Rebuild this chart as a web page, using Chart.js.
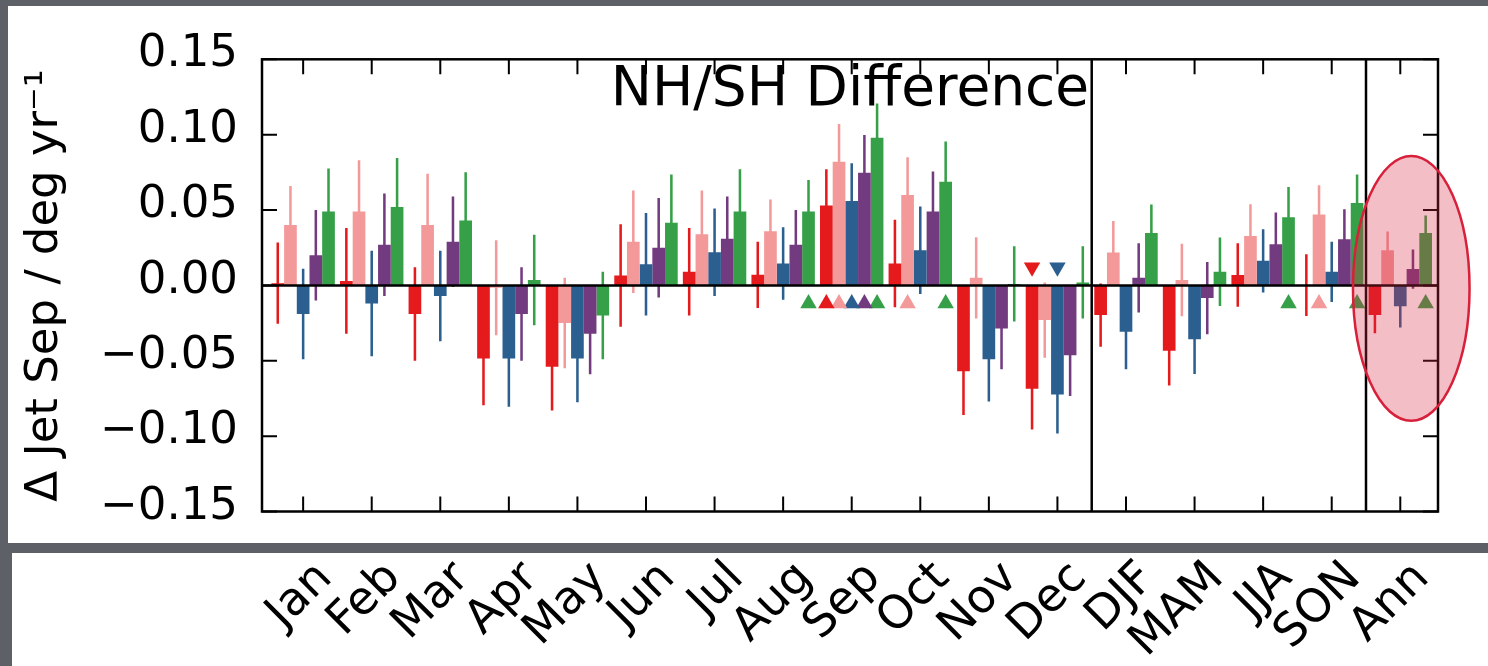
<!DOCTYPE html>
<html>
<head>
<meta charset="utf-8">
<script src="https://cdn.jsdelivr.net/npm/chart.js@4.4.1/dist/chart.umd.min.js"></script>
<style>
html, body { margin: 0; padding: 0; background: #ffffff; }
canvas { display: block; }
</style>
</head>
<body>
<canvas id="c" width="1488" height="666"></canvas>
<script>
// ---------------- data ----------------
const categories = ['Jan','Feb','Mar','Apr','May','Jun','Jul','Aug','Sep','Oct','Nov','Dec','DJF','MAM','JJA','SON','Ann'];
const yTickValues = [-0.15, -0.10, -0.05, 0.00, 0.05, 0.10, 0.15];

const redValues    = [0.0015, 0.003, -0.019, -0.0485, -0.054, 0.0065, 0.009, 0.007, 0.053, 0.0145, -0.057, -0.0686, -0.0197, -0.0434, 0.0069, 0.0002, -0.0197];
const redErrors    = [0.027, 0.035, 0.031, 0.031, 0.029, 0.034, 0.029, 0.022, 0.024, 0.029, 0.029, 0.027, 0.021, 0.023, 0.021, 0.0205, 0.012];
const pinkValues   = [0.040, 0.049, 0.040, -0.0015, -0.025, 0.029, 0.034, 0.036, 0.082, 0.060, 0.005, -0.023, 0.0218, 0.0036, 0.0328, 0.047, 0.0233];
const pinkErrors   = [0.026, 0.034, 0.034, 0.0315, 0.030, 0.034, 0.029, 0.021, 0.025, 0.025, 0.027, 0.025, 0.021, 0.024, 0.021, 0.0195, 0.0125];
const blueValues   = [-0.019, -0.012, -0.007, -0.0485, -0.0485, 0.014, 0.022, 0.0145, 0.056, 0.0233, -0.049, -0.0723, -0.0307, -0.0358, 0.0163, 0.009, -0.0139];
const blueErrors   = [0.030, 0.035, 0.030, 0.032, 0.029, 0.034, 0.029, 0.024, 0.025, 0.029, 0.028, 0.026, 0.025, 0.023, 0.021, 0.020, 0.014];
const purpleValues = [0.020, 0.027, 0.029, -0.019, -0.032, 0.025, 0.031, 0.027, 0.0747, 0.049, -0.0286, -0.0463, 0.005, -0.0084, 0.0273, 0.0306, 0.0108];
const purpleErrors = [0.030, 0.034, 0.030, 0.031, 0.027, 0.033, 0.028, 0.023, 0.025, 0.0265, 0.027, 0.027, 0.023, 0.024, 0.021, 0.020, 0.013];
const greenValues  = [0.049, 0.052, 0.043, 0.0036, -0.020, 0.0415, 0.049, 0.049, 0.098, 0.0688, 0.001, 0.002, 0.0347, 0.009, 0.0452, 0.0546, 0.0347];
const greenErrors  = [0.0285, 0.0325, 0.032, 0.030, 0.029, 0.032, 0.028, 0.021, 0.0227, 0.0267, 0.025, 0.024, 0.019, 0.0227, 0.020, 0.019, 0.0116];

// significance markers: 1 = upward triangle below zero, -1 = downward triangle above zero
const redSig    = [0,0,0,0,0,0,0,0,1,0,0,-1,0,0,0,0,0];
const pinkSig   = [0,0,0,0,0,0,0,0,1,1,0,0,0,0,0,1,0];
const blueSig   = [0,0,0,0,0,0,0,0,1,0,0,-1,0,0,0,0,0];
const purpleSig = [0,0,0,0,0,0,0,0,1,0,0,0,0,0,0,0,0];
const greenSig  = [0,0,0,0,0,0,0,1,1,1,0,0,0,0,1,1,1];

const markerLevel = 0.012;
const titleText = 'NH/SH Difference';
const yTitleText = '\u0394 Jet Sep / deg yr\u207B\u00B9';

// ---------------- style ----------------
const colors = ['#e41a1c', '#f4999a', '#2b5f8f', '#733b7f', '#35a047'];
const categoryPct = 0.925;
const frameGray = '#5e6068';
const highlight = { x: 16.16, y: -0.002, rx: 0.85, ry: 0.0878 };

const series = [
  { name: 'red',    values: redValues,    errors: redErrors,    sig: redSig },
  { name: 'pink',   values: pinkValues,   errors: pinkErrors,   sig: pinkSig },
  { name: 'blue',   values: blueValues,   errors: blueErrors,   sig: blueSig },
  { name: 'purple', values: purpleValues, errors: purpleErrors, sig: purpleSig },
  { name: 'green',  values: greenValues,  errors: greenErrors,  sig: greenSig }
];
const groupStep = categoryPct / series.length;

Chart.defaults.font.family = 'DejaVu Sans';
Chart.defaults.color = '#000';

const barSets = series.map((s, k) => ({
  type: 'bar',
  label: s.name,
  data: s.values.map((v, i) => ({ x: i, y: v })),
  backgroundColor: colors[k],
  stack: 's' + k,
  categoryPercentage: categoryPct,
  barPercentage: 1.0,
  borderWidth: 0
}));
const errSets = series.map((s, k) => ({
  type: 'bar',
  label: s.name + ' range',
  data: s.values.map((v, i) => ({ x: i, y: [v - s.errors[i], v + s.errors[i]] })),
  backgroundColor: colors[k],
  stack: 's' + k,
  categoryPercentage: categoryPct,
  barPercentage: 0.2,
  borderWidth: 0
}));
const markSets = series.map((s, k) => ({
  type: 'scatter',
  label: s.name + ' sig',
  data: s.sig.map((g, i) => g === 0 ? null : ({ x: i + (k - 2) * groupStep, y: g > 0 ? -markerLevel : markerLevel })).filter(p => p),
  pointStyle: 'triangle',
  pointRadius: 9.5,
  pointRotation: ctx => (ctx.raw && ctx.raw.y > 0 ? 180 : 0),
  backgroundColor: colors[k],
  pointBackgroundColor: colors[k],
  borderWidth: 0,
  pointBorderWidth: 0,
  showLine: false
}));

function fmtY(v) {
  if (Math.abs(v) < 1e-9) return '0.00';
  return (v < 0 ? '\u2212' : '') + Math.abs(v).toFixed(2);
}

const decor = {
  id: 'decor',
  beforeDraw(chart) {
    const c = chart.ctx;
    c.save();
    c.fillStyle = frameGray;
    c.fillRect(0, 0, chart.width, chart.height);
    c.fillStyle = '#ffffff';
    c.fillRect(8, 6, chart.width - 8, 537);
    c.fillRect(12, 553, chart.width - 12, chart.height - 553);
    c.restore();
  },
  afterDatasetsDraw(chart) {
    const c = chart.ctx;
    const xs = chart.scales.x, ys = chart.scales.y;
    const a = chart.chartArea;
    c.save();
    c.strokeStyle = '#000';
    // zero line
    c.lineWidth = 2.5;
    const y0 = ys.getPixelForValue(0);
    c.beginPath(); c.moveTo(a.left, y0); c.lineTo(a.right, y0); c.stroke();
    // separators between monthly / seasonal / annual blocks
    [11.5, 15.5].forEach(v => {
      const px = xs.getPixelForValue(v);
      c.beginPath(); c.moveTo(px, a.top); c.lineTo(px, a.bottom); c.stroke();
    });
    // inward tick marks
    c.lineWidth = 2;
    const tl = 15;
    categories.forEach((cat, i) => {
      const px = xs.getPixelForValue(i);
      c.beginPath();
      c.moveTo(px, a.bottom); c.lineTo(px, a.bottom - tl);
      c.moveTo(px, a.top); c.lineTo(px, a.top + tl);
      c.stroke();
    });
    yTickValues.forEach(v => {
      const py = ys.getPixelForValue(v);
      c.beginPath();
      c.moveTo(a.left, py); c.lineTo(a.left + tl, py);
      c.moveTo(a.right, py); c.lineTo(a.right - tl, py);
      c.stroke();
    });
    // frame
    c.lineWidth = 2.5;
    c.strokeRect(a.left, a.top, a.right - a.left, a.bottom - a.top);
    c.restore();
  },
  afterDraw(chart) {
    const c = chart.ctx;
    const xs = chart.scales.x, ys = chart.scales.y;
    const cx = xs.getPixelForValue(highlight.x);
    const cy = ys.getPixelForValue(highlight.y);
    const rx = xs.getPixelForValue(highlight.x + highlight.rx) - cx;
    const ry = cy - ys.getPixelForValue(highlight.y + highlight.ry);
    c.save();
    c.beginPath();
    c.ellipse(cx, cy, rx, ry, 0, 0, Math.PI * 2);
    c.fillStyle = 'rgba(220, 40, 70, 0.3)';
    c.fill();
    c.lineWidth = 2.5;
    c.strokeStyle = '#d8203a';
    c.stroke();
    c.restore();
  }
};

new Chart(document.getElementById('c'), {
  type: 'bar',
  data: { datasets: [...barSets, ...errSets, ...markSets] },
  options: {
    responsive: false,
    animation: false,
    events: [],
    devicePixelRatio: 1,
    layout: { padding: { left: 0, right: 50, top: 0, bottom: 0 } },
    plugins: {
      legend: { display: false },
      tooltip: { enabled: false },
      title: {
        display: true,
        text: titleText,
        fullSize: false,
        color: '#000',
        font: { family: 'DejaVu Sans', size: 55, weight: 'normal' },
        padding: { top: 57.3, bottom: -64 }
      }
    },
    scales: {
      x: {
        type: 'linear',
        min: -0.6,
        max: 16.55,
        offset: false,
        grid: { display: false, drawTicks: false, offset: false },
        border: { display: false },
        afterBuildTicks: s => { s.ticks = categories.map((cat, i) => ({ value: i })); },
        afterFit: s => { s.height = 154.5; },
        ticks: {
          autoSkip: false,
          minRotation: 45,
          maxRotation: 45,
          padding: 40,
          labelOffset: 22,
          color: '#000',
          font: { family: 'DejaVu Sans', size: 46 },
          callback: (v, idx) => categories[idx]
        }
      },
      y: {
        type: 'linear',
        min: -0.15,
        max: 0.15,
        stacked: false,
        grid: { display: false, drawTicks: false },
        border: { display: false },
        afterBuildTicks: s => { s.ticks = yTickValues.map(v => ({ value: v })); },
        afterFit: s => { s.width = 262; },
        ticks: {
          padding: 24,
          labelOffset: -4.5,
          color: '#000',
          font: { family: 'DejaVu Sans', size: 45 },
          callback: v => fmtY(v)
        },
        title: {
          display: true,
          text: yTitleText,
          color: '#000',
          font: { family: 'DejaVu Sans', size: 45 },
          padding: { top: 18, bottom: 0 }
        }
      }
    }
  },
  plugins: [decor]
});
</script>
</body>
</html>
